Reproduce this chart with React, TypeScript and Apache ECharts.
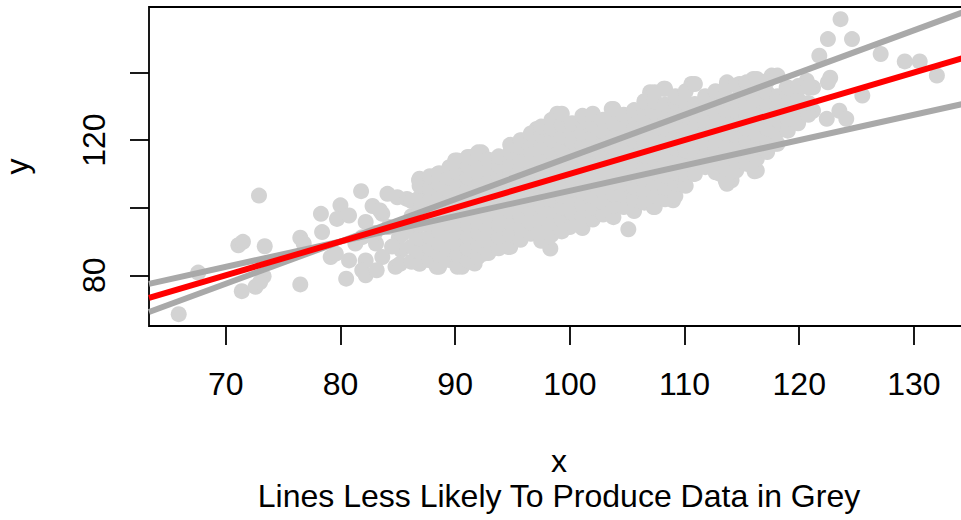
import React, { useEffect, useRef } from "react";
import * as echarts from "echarts";

// Axis ranges (R usr limits)
const X_MIN = 63.31;
const X_MAX = 134.8;
const Y_MIN = 65.0;
const Y_MAX = 159.4;

const xTicks = [70, 80, 90, 100, 110, 120, 130];
const yTicks = [80, 100, 120, 140];
const yTickLabels = [80, 120];

// Sparse points at the lower-left end of the cloud
const leftTail: [number, number][] = [
  [65.9, 68.5], [67.6, 80.8], [71.1, 88.9], [71.5, 89.9], [72.9, 103.6], [73.4, 88.6],
  [71.4, 75.3], [72.6, 76.6], [73.3, 79.7], [73.0, 78.0], [76.5, 77.3], [76.5, 91.1],
  [76.8, 89.4], [78.3, 98.2], [78.4, 92.8], [79.15, 85.4], [79.6, 86.4], [80.0, 100.7],
  [79.7, 96.7], [80.75, 97.7], [81.8, 104.9], [82.2, 95.8], [83.65, 98.2], [84.1, 104.1],
  [84.96, 103.1], [84.2, 94.3], [85.1, 91.3], [81.9, 91.3], [81.3, 89.4], [83.1, 89.4],
  [80.75, 84.4], [82.2, 84.4], [83.65, 85.4], [81.9, 81.5], [80.5, 79.0], [82.2, 80.0],
  [84.8, 82.5], [85.4, 92.3], [85.3, 87.5], [84.5, 88.5], [83.0, 92.5], [82.8, 100.5],
  [83.45, 99.2], [85.8, 102.6], [83.16, 81.5], [85.2, 83.4],
];

// Dense core of the cloud, read column by column
const coreStripX = [
  86.2, 86.9, 87.8, 88.6, 89.5, 90.2, 91.1, 92.0, 92.9, 93.8, 94.8, 95.7, 96.6, 97.5,
  98.4, 99.3, 100.2, 101.1, 102.0, 102.9, 103.8, 104.7, 105.6, 106.5, 107.4, 108.3,
  109.2, 110.1, 110.9, 111.8, 112.7, 113.6, 114.5, 115.4, 116.3, 117.2, 118.1, 119.0,
  119.9, 120.8,
];
const coreStripY: number[][] = [
  [84, 88.5, 93, 97.5, 102],
  [83.4, 87, 91, 95, 99, 103, 106.5, 108.6],
  [84.4, 88, 91.5, 95, 98.5, 102, 105.5, 109.3],
  [82.5, 86, 89.5, 93, 96.5, 100, 103.5, 107, 110.2],
  [84.5, 88, 91.5, 95, 98.5, 102, 105.5, 109, 112],
  [82.5, 86, 89.5, 93, 96.5, 100, 103.5, 107, 110.5, 114],
  [84.4, 88, 91.5, 95, 98.5, 102, 105.5, 109, 112.5, 115],
  [85.5, 89, 92.5, 96, 99.5, 103, 106.5, 110, 113, 116.4],
  [86.6, 90, 93.5, 97, 100.5, 104, 107.5, 111, 114.2],
  [88, 91.5, 95, 98.5, 102, 105.5, 109, 112.5, 115.2],
  [88.4, 92, 95.5, 99, 102.5, 106, 109.5, 113, 116.5, 118.6],
  [90.5, 94, 97.5, 101, 104.5, 108, 111.5, 115, 118, 120],
  [92.3, 95.5, 99, 102.5, 106, 109.5, 113, 116.5, 120, 122],
  [90.2, 93.5, 97, 100.5, 104, 107.5, 111, 114.5, 118, 121.5, 124],
  [92, 95.5, 99, 102.5, 106, 109.5, 113, 116.5, 120, 123.5, 126],
  [93, 96.5, 100, 103.5, 107, 110.5, 114, 117.5, 121, 124.5, 127.8],
  [95, 98.5, 102, 105.5, 109, 112.5, 116, 119.5, 123, 125],
  [94, 97.5, 101, 104.5, 108, 111.5, 115, 118.5, 122, 125.5, 127.2],
  [96.5, 100, 103.5, 107, 110.5, 114, 117.5, 121, 124.5, 127.8],
  [98, 101.5, 105, 108.5, 112, 115.5, 119, 122.5, 126],
  [97.2, 100.5, 104, 107.5, 111, 114.5, 118, 121.5, 125, 129.2],
  [100.2, 103.5, 107, 110.5, 114, 117.5, 121, 124.5, 127.5],
  [99, 102.5, 106, 109.5, 113, 116.5, 120, 123.5, 127, 128.9],
  [101.5, 105, 108.5, 112, 115.5, 119, 122.5, 126, 129.5, 131.5],
  [100.2, 103.5, 107, 110.5, 114, 117.5, 121, 124.5, 128, 131.5, 134.2],
  [102.5, 106, 109.5, 113, 116.5, 120, 123.5, 127, 130.5, 135.2],
  [103.5, 107, 110.5, 114, 117.5, 121, 124.5, 128, 131.2, 133],
  [106.5, 110, 113.5, 117, 120.5, 124, 127.5, 131, 134.5],
  [110, 113.5, 117, 120.5, 124, 127.5, 130.7, 136.6],
  [112, 115.5, 119, 122.5, 126, 129.5, 133],
  [110.5, 114, 117.5, 121, 124.5, 128, 131.5, 134.5],
  [107.8, 111.5, 115, 118.5, 122, 125.5, 129, 132.5, 135.5],
  [111, 114.5, 118, 121.5, 125, 128.5, 132, 136.2],
  [113, 116.5, 120, 123.5, 127, 130.5, 134, 137.1],
  [111, 114.5, 118, 121.5, 125, 128.5, 132, 135.5, 138.1],
  [116.5, 120, 123.5, 127, 130.5, 134, 137.5],
  [118.9, 122.5, 126, 129.5, 133, 139.1],
  [122.8, 126.5, 130, 133.5, 135.6],
  [125, 128.5, 132, 136],
  [127.5, 131, 135.6],
];

// Isolated points around the core edges
const strayPoints: [number, number][] = [
  [105.1, 93.6], [98.3, 87.9], [94.6, 88.4], [90.6, 82.5], [91.7, 83.5], [116.1, 110.8],
  [114.1, 108.1], [113.1, 110], [110.8, 110], [109.0, 102.2], [107.3, 100.2], [117.9, 118.9],
  [86.85, 108.1], [88.5, 110.0], [90.0, 114.0], [91.3, 115.0], [92.3, 116.4], [95.8, 119.9],
  [97.1, 123.3], [98.9, 127.8], [103.65, 129.2], [105.7, 128.7], [107, 134.2], [108.2, 135.2],
  [110.6, 136.6], [113.7, 137.1], [114.8, 136.6], [116.0, 138.1], [117.6, 139.1], [118.9, 135.6],
  [121.2, 135.6], [87.2, 84.4], [88.4, 82.5], [92.5, 86.4], [100.0, 94.3], [113.7, 107.1],
];

// Sparse points at the upper-right end
const rightTail: [number, number][] = [
  [121.75, 145], [122.5, 149.9], [124.6, 149.9], [123.6, 155.8], [127.1, 145.5],
  [129.2, 143.3], [130.5, 143.3], [132.0, 139.1], [122.5, 137.1], [122.7, 138.5],
  [125.5, 133.2], [123.5, 128.7], [124.1, 126.3], [121.2, 128.7], [122.4, 126.3],
  [120.65, 137.6], [120.1, 135.6],
];

// Lines: intercept, slope
const redLine = { intercept: 10, slope: 1.0 };
const greyLines = [
  { intercept: -10, slope: 1.25 },
  { intercept: 30, slope: 0.75 },
];

const FONT = "'Liberation Sans', Arial, Helvetica, sans-serif";
const FS = 32;

export default function App() {
  const ref = useRef<HTMLDivElement>(null);
  useEffect(() => {
    if (!ref.current) return;
    const chart = echarts.init(ref.current, undefined, { renderer: "svg" });
    const cloud: [number, number][] = [...leftTail, ...strayPoints, ...rightTail];
    coreStripX.forEach((x, i) => {
      coreStripY[i].forEach((y) => cloud.push([x, y]));
    });
    const lineData = (l: { intercept: number; slope: number }) => [
      [X_MIN, l.intercept + l.slope * X_MIN],
      [X_MAX, l.intercept + l.slope * X_MAX],
    ];
    chart.setOption({
      animation: false,
      grid: {
        left: 149,
        right: -8,
        top: 7,
        bottom: 194,
        show: true,
        borderColor: "#000",
        borderWidth: 1.8,
        backgroundColor: "transparent",
        containLabel: false,
        outerBoundsMode: "none",
      },
      xAxis: {
        type: "value",
        min: X_MIN,
        max: X_MAX,
        splitLine: { show: false },
        axisLine: { show: false },
        axisTick: {
          show: true,
          length: 19,
          customValues: xTicks,
          lineStyle: { color: "#000", width: 1.8 },
        },
        axisLabel: {
          customValues: xTicks,
          margin: 58,
          verticalAlign: "middle",
          color: "#000",
          fontSize: FS,
          fontFamily: FONT,
        },
        name: "x",
        nameLocation: "middle",
        nameGap: 135,
        nameTextStyle: {
          color: "#000",
          fontSize: FS,
          fontFamily: FONT,
          verticalAlign: "middle",
        },
      },
      yAxis: {
        type: "value",
        min: Y_MIN,
        max: Y_MAX,
        splitLine: { show: false },
        axisLine: { show: false },
        axisTick: {
          show: true,
          length: 19,
          customValues: yTicks,
          lineStyle: { color: "#000", width: 1.8 },
        },
        axisLabel: {
          customValues: yTickLabels,
          rotate: 90,
          margin: 55,
          verticalAlign: "middle",
          align: "center",
          color: "#000",
          fontSize: FS,
          fontFamily: FONT,
        },
        name: "y",
        nameLocation: "middle",
        nameGap: 132,
        nameRotate: 90,
        nameTextStyle: {
          color: "#000",
          fontSize: FS,
          fontFamily: FONT,
          verticalAlign: "middle",
        },
      },
      graphic: [
        {
          type: "text",
          x: 559,
          y: 496,
          style: {
            text: "Lines Less Likely To Produce Data in Grey",
            fontSize: FS,
            fontFamily: FONT,
            fill: "#000",
            align: "center",
            verticalAlign: "middle",
          },
        },
      ],
      series: [
        {
          type: "scatter",
          data: cloud,
          symbol: "circle",
          symbolSize: 16,
          itemStyle: { color: "#D3D3D3", opacity: 1 },
          z: 1,
          silent: true,
        },
        ...greyLines.map((l) => ({
          type: "line",
          data: lineData(l),
          symbol: "none",
          lineStyle: { color: "#A9A9A9", width: 6 },
          z: 2,
          silent: true,
        })),
        {
          type: "line",
          data: lineData(redLine),
          symbol: "none",
          lineStyle: { color: "#FF0000", width: 6 },
          z: 3,
          silent: true,
        },
      ],
    });
    return () => chart.dispose();
  }, []);
  return (
    <div
      ref={ref}
      style={{ position: "fixed", left: 0, top: 0, width: 961, height: 520, background: "#fff" }}
    />
  );
}
